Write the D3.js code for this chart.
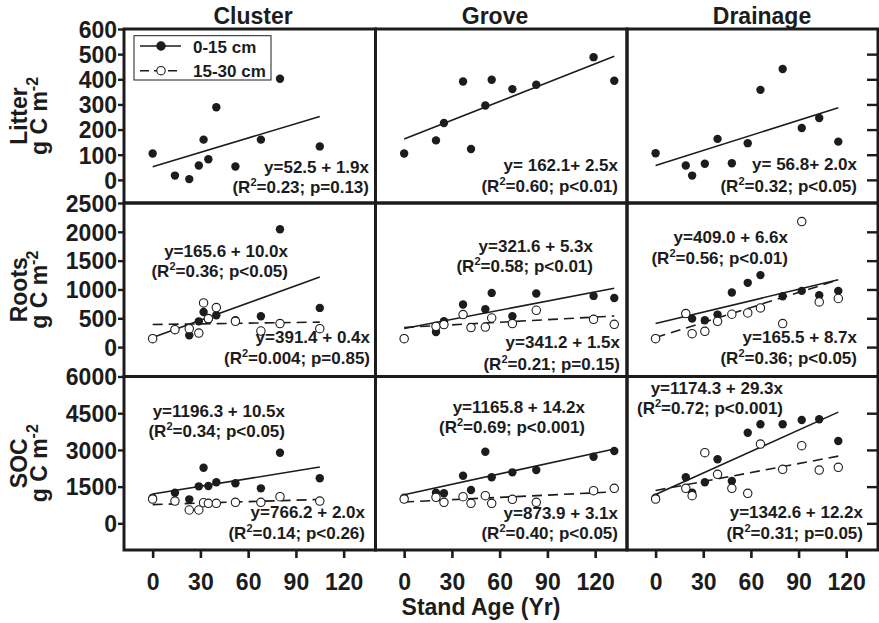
<!DOCTYPE html>
<html><head><meta charset="utf-8">
<script src="https://cdn.jsdelivr.net/npm/d3@7"></script>
<style>
body{margin:0;background:#fff}
text{font-family:"Liberation Sans",Arial,Helvetica,sans-serif;font-weight:bold;fill:#1c1c1c}
</style>
</head><body>
<svg id="chart" width="879" height="623"></svg>
<script>
// ---------------- DATA ----------------
const columns = ["Cluster", "Grove", "Drainage"];
const rowNames = ["Litter", "Roots", "SOC"];
const seriesNames = ["0-15 cm", "15-30 cm"];
const xTickValues = [0, 30, 60, 90, 120];
const litterTicks = [0, 100, 200, 300, 400, 500, 600];
const rootsTicks = [0, 500, 1000, 1500, 2000, 2500];
const socTicks = [0, 1500, 3000, 4500, 6000];

const clusterAges = [0, 14, 23, 29, 32, 35, 40, 52, 68, 80, 105];
const groveAges = [0, 20, 25, 37, 42, 51, 55, 68, 83, 119, 132];
const drainageAges = [0, 19, 23, 31, 39, 48, 58, 66, 80, 92, 103, 115];

const litterCluster = [105, 17, 3, 57, 160, 82, 289, 53, 160, 402, 133];
const litterGrove = [105, 157, 226, 391, 123, 296, 398, 361, 378, 488, 394];
const litterDrainage = [106, 57, 17, 64, 163, 66, 146, 358, 441, 206, 246, 152];

const rootsCluster0 = [150, 300, 204, 447, 610, 480, 552, 465, 535, 2045, 680];
const rootsCluster15 = [146, 303, 320, 244, 767, 495, 686, 448, 279, 408, 320];
const rootsGrove0 = [150, 261, 448, 738, 340, 656, 940, 535, 930, 888, 853];
const rootsGrove15 = [146, 360, 390, 564, 338, 348, 505, 408, 639, 482, 395];
const rootsDrainage0 = [150, 580, 494, 465, 564, 947, 1115, 1249, 883, 975, 900, 975];
const rootsDrainage15 = [146, 581, 233, 273, 448, 570, 592, 679, 408, 2178, 784, 843];

const socCluster0 = [1050, 1251, 980, 1512, 2272, 1525, 1676, 1635, 1430, 2886, 1839];
const socCluster15 = [993, 911, 544, 544, 842, 817, 817, 858, 858, 1087, 911];
const socGrove0 = [1050, 1251, 1226, 1945, 1361, 2926, 1880, 2084, 2178, 2722, 2955];
const socGrove15 = [993, 1063, 858, 1087, 817, 1128, 817, 980, 858, 1333, 1430];
const socDrainage0 = [1050, 1880, 1251, 1676, 2616, 1729, 3703, 4046, 4046, 4222, 4250, 3364];
const socDrainage15 = [993, 1430, 1128, 2886, 2002, 1430, 1226, 3240, 2207, 3172, 2178, 2288];

// regression [intercept, slope]
const litterFit = [[52.5, 1.9], [162.1, 2.5], [56.8, 2.0]];
const rootsFit0 = [[165.6, 10.0], [321.6, 5.3], [409.0, 6.6]];
const rootsFit15 = [[391.4, 0.4], [341.2, 1.5], [165.5, 8.7]];
const socFit0 = [[1196.3, 10.5], [1165.8, 14.2], [1174.3, 29.3]];
const socFit15 = [[766.2, 2.0], [873.9, 3.1], [1342.6, 12.2]];

const litterEq = ["y=52.5 + 1.9x", "y= 162.1+ 2.5x", "y= 56.8+ 2.0x"];
const litterStat = ["=0.23; p=0.13)", "=0.60; p<0.01)", "=0.32; p<0.05)"];
const rootsEq0 = ["y=165.6 + 10.0x", "y=321.6 + 5.3x", "y=409.0 + 6.6x"];
const rootsStat0 = ["=0.36; p<0.05)", "=0.58; p<0.01)", "=0.56; p<0.01)"];
const rootsEq15 = ["y=391.4 + 0.4x", "y=341.2 + 1.5x", "y=165.5 + 8.7x"];
const rootsStat15 = ["=0.004; p=0.85)", "=0.21; p=0.15)", "=0.36; p<0.05)"];
const socEq0 = ["y=1196.3 + 10.5x", "y=1165.8 + 14.2x", "y=1174.3 + 29.3x"];
const socStat0 = ["=0.34; p<0.05)", "=0.69; p<0.001)", "=0.72; p<0.001)"];
const socEq15 = ["y=766.2 + 2.0x", "y=873.9 + 3.1x", "y=1342.6 + 12.2x"];
const socStat15 = ["=0.14; p<0.26)", "=0.40; p<0.05)", "=0.31; p=0.05)"];

// ---------------- LAYOUT ----------------
const colL = [124, 375.5, 627], colR = [375.5, 627, 878];
const rowT = [29, 203, 376.5], rowB = [203, 376.5, 550];
const xDomain = [-18, 140];
const yDomains = [[-92, 600], [-510, 2500], [-1090, 6000]];
const yTicks = [litterTicks, rootsTicks, socTicks];
const titleX = [253, 495, 762];
// label anchors: [endX, baseline1, baseline2]
const eqPos0 = [
  [[369, 173, 193], [618, 171, 192], [857, 170, 192]],
  [[288, 257, 277], [593, 252, 272], [788, 243, 264]],
  [[285, 417, 437], [585, 413, 433], [783, 394, 414]]
];
const eqPos15 = [
  null,
  [[370, 343, 364], [620, 348, 370], [857, 343, 364]],
  [[365, 518, 539], [618, 519, 539], [863, 518, 539]]
];

const ages = [clusterAges, groveAges, drainageAges];
const rowsData = [
  { s0: [litterCluster, litterGrove, litterDrainage], s15: null, f0: litterFit, f15: null, e0: litterEq, t0: litterStat },
  { s0: [rootsCluster0, rootsGrove0, rootsDrainage0], s15: [rootsCluster15, rootsGrove15, rootsDrainage15], f0: rootsFit0, f15: rootsFit15, e0: rootsEq0, t0: rootsStat0, e15: rootsEq15, t15: rootsStat15 },
  { s0: [socCluster0, socGrove0, socDrainage0], s15: [socCluster15, socGrove15, socDrainage15], f0: socFit0, f15: socFit15, e0: socEq0, t0: socStat0, e15: socEq15, t15: socStat15 }
];

const svg = d3.select("#chart");
const R = 4.2;
const ink = "#1c1c1c";
const fmt = d3.format("d");

function eqText(g, endX, y1, y2, eq, stat) {
  g.append("text").attr("x", endX).attr("y", y1).attr("text-anchor", "end")
    .style("font-size", "17px").text(eq);
  const t = g.append("text").attr("x", endX).attr("y", y2).attr("text-anchor", "end")
    .style("font-size", "17px");
  t.append("tspan").text("(R");
  t.append("tspan").attr("dy", -7).style("font-size", "11px").text("2");
  t.append("tspan").attr("dy", 7).text(stat);
}

for (let r = 0; r < 3; r++) {
  const y = d3.scaleLinear().domain(yDomains[r]).range([rowB[r], rowT[r]]);
  const rd = rowsData[r];
  for (let c = 0; c < 3; c++) {
    const x = d3.scaleLinear().domain(xDomain).range([colL[c], colR[c]]);
    const g = svg.append("g");
    const a = ages[c];
    const ext = d3.extent(a);
    // fitted lines
    const f0 = rd.f0[c];
    g.append("line")
      .attr("x1", x(ext[0])).attr("x2", x(ext[1]))
      .attr("y1", y(f0[0] + f0[1] * ext[0])).attr("y2", y(f0[0] + f0[1] * ext[1]))
      .attr("stroke", ink).attr("stroke-width", 1.6);
    if (rd.f15) {
      const f1 = rd.f15[c];
      g.append("line")
        .attr("x1", x(ext[0])).attr("x2", x(ext[1]))
        .attr("y1", y(f1[0] + f1[1] * ext[0])).attr("y2", y(f1[0] + f1[1] * ext[1]))
        .attr("stroke", ink).attr("stroke-width", 1.6).attr("stroke-dasharray", "10,6");
    }
    // points
    g.selectAll("circle.f").data(a.map((v, i) => [v, rd.s0[c][i]])).enter()
      .append("circle").attr("class", "f")
      .attr("cx", d => x(d[0])).attr("cy", d => y(d[1])).attr("r", R).attr("fill", ink);
    if (rd.s15) {
      g.selectAll("circle.o").data(a.map((v, i) => [v, rd.s15[c][i]])).enter()
        .append("circle").attr("class", "o")
        .attr("cx", d => x(d[0])).attr("cy", d => y(d[1])).attr("r", R)
        .attr("fill", "#fff").attr("stroke", ink).attr("stroke-width", 1.1);
    }
    // equations
    const p0 = eqPos0[r][c];
    eqText(g, p0[0], p0[1], p0[2], rd.e0[c], rd.t0[c]);
    if (rd.e15) {
      const p1 = eqPos15[r][c];
      eqText(g, p1[0], p1[1], p1[2], rd.e15[c], rd.t15[c]);
    }
    // bottom axis
    if (r === 2) {
      const ax = svg.append("g").attr("transform", `translate(0,${rowB[2]})`)
        .call(d3.axisBottom(x).tickValues(xTickValues).tickFormat(fmt).tickSize(8).tickPadding(16));
      ax.select(".domain").remove();
      ax.selectAll("line").attr("stroke", ink).attr("stroke-width", 2.6);
      ax.selectAll("text").style("font-size", "23px").attr("fill", ink);
    }
  }
  // left axis
  const ay = svg.append("g").attr("transform", `translate(${colL[0]},0)`)
    .call(d3.axisLeft(y).tickValues(yTicks[r]).tickFormat(fmt).tickSize(6).tickPadding(1));
  ay.select(".domain").remove();
  ay.selectAll("line").attr("stroke", ink).attr("stroke-width", 2.4);
  ay.selectAll("text").style("font-size", "23px").attr("fill", ink).attr("dy", "0.36em");
  // right inner ticks
  const ar = svg.append("g").attr("transform", `translate(${colR[2]},0)`)
    .call(d3.axisLeft(y).tickValues(yTicks[r].slice(0, -1)).tickSize(11).tickFormat(""));
  ar.select(".domain").remove();
  ar.selectAll("line").attr("stroke", ink).attr("stroke-width", 2.4);

  // row titles
  const cy = (rowT[r] + rowB[r]) / 2;
  svg.append("text").attr("transform", `translate(27,${cy}) rotate(-90)`)
    .attr("text-anchor", "middle").style("font-size", "23px").text(rowNames[r]);
  const t2 = svg.append("text").attr("transform", `translate(47,${cy}) rotate(-90)`)
    .attr("text-anchor", "middle").style("font-size", "23px");
  t2.append("tspan").text("g C m");
  t2.append("tspan").attr("dy", -9).style("font-size", "16px").text("-2");
}

// column titles
columns.forEach((name, c) => {
  svg.append("text").attr("x", titleX[c]).attr("y", 23.5).attr("text-anchor", "middle")
    .style("font-size", "23px").text(name);
});

// x axis title
svg.append("text").attr("x", 481).attr("y", 615).attr("text-anchor", "middle")
  .style("font-size", "23px").text("Stand Age (Yr)");

// panel borders
for (let r = 0; r < 3; r++) for (let c = 0; c < 3; c++) {
  svg.append("rect").attr("x", colL[c]).attr("y", rowT[r])
    .attr("width", colR[c] - colL[c]).attr("height", rowB[r] - rowT[r])
    .attr("fill", "none").attr("stroke", ink).attr("stroke-width", 3);
}

// legend
const lg = svg.append("g");
lg.append("rect").attr("x", 134).attr("y", 35.7).attr("width", 137).attr("height", 44.3)
  .attr("fill", "#fff").attr("stroke", ink).attr("stroke-width", 1);
const legY = [46, 70.7];
seriesNames.forEach((name, i) => {
  lg.append("line").attr("x1", 140).attr("x2", 181).attr("y1", legY[i]).attr("y2", legY[i])
    .attr("stroke", ink).attr("stroke-width", 1.5)
    .attr("stroke-dasharray", i === 1 ? "9,5" : null);
  lg.append("circle").attr("cx", 161).attr("cy", legY[i]).attr("r", R)
    .attr("fill", i === 0 ? ink : "#fff").attr("stroke", ink).attr("stroke-width", 1.1);
  lg.append("text").attr("x", 193).attr("y", legY[i] + 6.5).style("font-size", "17px").text(name);
});
</script>
</body></html>
